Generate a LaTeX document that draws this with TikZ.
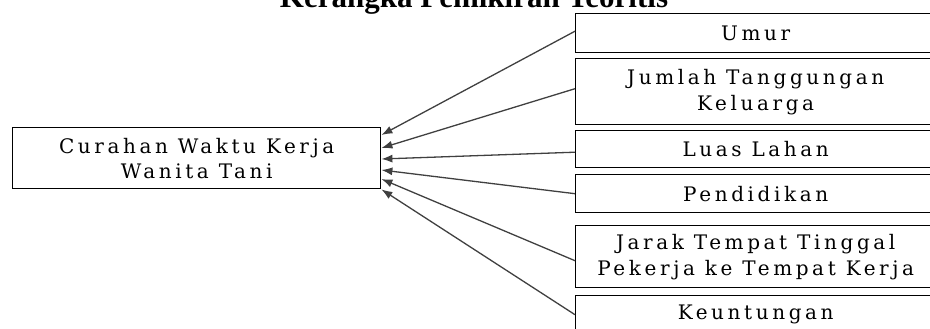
\documentclass[tikz,border=0pt]{standalone}
\usepackage{fontspec}
\setmainfont{Liberation Serif}
\newfontfamily\boxfont[LetterSpace=18]{DejaVu Serif}
\usepackage{tikz}
\usetikzlibrary{arrows.meta}

\begin{document}
\begin{tikzpicture}
[
x=1pt,y=-1pt,
factor/.style={draw,line width=1.4pt,anchor=north west,inner sep=0pt,
               minimum width=360pt,align=center,
               font=\boxfont\fontsize{20}{26}\selectfont},
result/.style={draw,line width=1.4pt,anchor=north west,inner sep=0pt,
               minimum width=368pt,minimum height=61pt,align=center,
               font=\boxfont\fontsize{20}{25}\selectfont},
infl/.style={line width=1.3pt,black!75,-{Latex[length=11pt,width=8pt]}},
]
\clip (0,0) rectangle (930,329);

%Place the nodes
\node[anchor=base,font=\bfseries\fontsize{31}{36}\selectfont] (title) at (474,8) {Kerangka Pemikiran Teoritis};
\node[result] (curahan) at (12,127) {Curahan Waktu Kerja\\Wanita Tani};
\node[factor,minimum height=39pt] (umur) at (575,13) {Umur};
\node[factor,minimum height=66pt] (jumlah) at (575,58) {Jumlah Tanggungan\\Keluarga};
\node[factor,minimum height=37pt] (luas) at (575,130) {Luas Lahan};
\node[factor,minimum height=38pt] (didik) at (575,174) {Pendidikan};
\node[factor,minimum height=62pt] (jarak) at (575,225) {Jarak Tempat Tinggal\\Pekerja ke Tempat Kerja};
\node[factor,minimum height=38pt] (untung) at (575,295) {Keuntungan};

%Draw the connections
\draw[infl] ([yshift=2pt]umur.west) -- ([yshift=-8pt]curahan.north east);
\draw[infl] ([yshift=3pt]jumlah.west) -- ([yshift=-21pt]curahan.north east);
\draw[infl] ([yshift=-3pt]luas.west) -- ([yshift=-32pt]curahan.north east);
\draw[infl] (didik.west) -- ([yshift=-43pt]curahan.north east);
\draw[infl] ([yshift=-4pt]jarak.west) -- ([yshift=-52pt]curahan.north east);
\draw[infl] (untung.west) -- (curahan.south east);
\end{tikzpicture}
\end{document}
